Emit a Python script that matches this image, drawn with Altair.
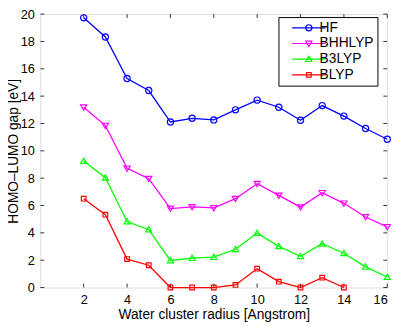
import altair as alt
import pandas as pd

radius = [2, 3, 4, 5, 6, 7, 8, 9, 10, 11, 12, 13, 14, 15, 16]
series_names = ["HF", "BHHLYP", "B3LYP", "BLYP"]
hf = [19.73, 18.33, 15.29, 14.41, 12.11, 12.38, 12.26, 13.0, 13.71, 13.19, 12.24, 13.31, 12.54, 11.63, 10.85]
bhhlyp = [13.19, 11.85, 8.72, 7.96, 5.78, 5.90, 5.83, 6.50, 7.60, 6.74, 5.88, 6.93, 6.16, 5.16, 4.44]
b3lyp = [9.25, 8.03, 4.83, 4.23, 1.98, 2.15, 2.22, 2.80, 3.99, 3.01, 2.29, 3.20, 2.51, 1.51, 0.77]
blyp = [6.50, 5.33, 2.08, 1.63, 0.0, 0.0, 0.0, 0.19, 1.38, 0.43, 0.0, 0.72, 0.0]
x_tick_values = [2, 4, 6, 8, 10, 12, 14, 16]
y_tick_values = [0, 2, 4, 6, 8, 10, 12, 14, 16, 18, 20]

colors = ["#0000ff", "#ff00ff", "#00ff00", "#ff0000"]
shapes = [
    "M-1,0A1,1,0,1,1,1,0A1,1,0,1,1,-1,0Z",
    "M-1,-0.75L1,-0.75L0,0.95Z",
    "M-1,0.75L1,0.75L0,-0.95Z",
    "M-0.75,-0.75L0.75,-0.75L0.75,0.75L-0.75,0.75Z",
]
legend_shapes = ["M-5.4,0L5.4,0" + s for s in shapes]

rows = []
for name, vals in zip(series_names, [hf, bhhlyp, b3lyp, blyp]):
    for r, v in zip(radius, vals):
        rows.append({"radius": r, "gap": v, "series": name})
df = pd.DataFrame(rows)

W, H = 354, 279
FONT = "Liberation Sans"

xscale = alt.Scale(domain=[0, 16], nice=False, zero=False)
yscale = alt.Scale(domain=[0, 20], nice=False)
cscale = alt.Scale(domain=series_names, range=colors)
sscale = alt.Scale(domain=series_names, range=legend_shapes)

legend = alt.Legend(
    title=None,
    orient="none",
    legendX=243,
    legendY=3,
    padding=4,
    rowPadding=2,
    strokeColor="#000000",
    fillColor="#ffffff",
    symbolOffset=20,
    labelOffset=4,
    labelFont=FONT,
    labelFontSize=14,
    labelColor="#000000",
    symbolStrokeWidth=1.2,
    symbolSize=40,
    symbolOpacity=1,
    labelExpr="datum.label + '\u00a0\u00a0\u00a0\u00a0\u00a0\u00a0'",
)

x_axis = alt.Axis(
    values=x_tick_values, grid=False, domain=False, tickSize=0, labelPadding=6,
    labelFont=FONT, labelFontSize=13, labelColor="#000000", labelOverlap=False,
    title="Water cluster radius [Angstrom]", titleFont=FONT, titleFontSize=14,
    titleFontWeight="normal", titleColor="#000000", titlePadding=2,
)
y_axis = alt.Axis(
    values=y_tick_values, grid=False, domain=False, tickSize=0, labelPadding=6,
    labelFont=FONT, labelFontSize=13, labelColor="#000000", labelOverlap=False,
    title="HOMO\u2013LUMO gap [eV]", titleFont=FONT, titleFontSize=14,
    titleFontWeight="normal", titleColor="#000000", titlePadding=0,
)

base = alt.Chart(df)
lines = base.mark_line(strokeWidth=1.3).encode(
    x=alt.X("radius:Q", scale=xscale, axis=x_axis),
    y=alt.Y("gap:Q", scale=yscale, axis=y_axis),
    color=alt.Color("series:N", scale=cscale, legend=legend),
    detail="series:N",
)

point_layers = []
for name, col, shp in zip(series_names, colors, shapes):
    point_layers.append(
        base.transform_filter(alt.datum.series == name)
        .mark_point(filled=False, size=40, strokeWidth=1.2, opacity=1, color=col, shape=shp)
        .encode(x=alt.X("radius:Q", scale=xscale, axis=x_axis),
                y=alt.Y("gap:Q", scale=yscale, axis=y_axis))
    )

legend_layer = base.transform_filter("datum.gap < -1000").mark_point(
    filled=False, size=40, strokeWidth=1.2, opacity=1
).encode(
    x=alt.X("radius:Q", scale=xscale, axis=x_axis),
    y=alt.Y("gap:Q", scale=yscale, axis=y_axis),
    color=alt.Color("series:N", scale=cscale, legend=legend),
    shape=alt.Shape("series:N", scale=sscale, legend=legend),
)

xt = pd.DataFrame({"t": x_tick_values})
yt = pd.DataFrame({"t": y_tick_values})
tick_color = "#333333"
xb = alt.Chart(xt).mark_rule(color=tick_color, strokeWidth=1).encode(
    x=alt.X("t:Q", scale=xscale, axis=x_axis), y=alt.value(H), y2=alt.value(H - 4))
xtop = alt.Chart(xt).mark_rule(color=tick_color, strokeWidth=1).encode(
    x=alt.X("t:Q", scale=xscale, axis=x_axis), y=alt.value(0), y2=alt.value(4))
yl = alt.Chart(yt).mark_rule(color=tick_color, strokeWidth=1).encode(
    y=alt.Y("t:Q", scale=yscale, axis=y_axis), x=alt.value(0), x2=alt.value(4))
yr = alt.Chart(yt).mark_rule(color=tick_color, strokeWidth=1).encode(
    y=alt.Y("t:Q", scale=yscale, axis=y_axis), x=alt.value(W), x2=alt.value(W - 4))

chart = alt.layer(lines, xb, xtop, yl, yr, *point_layers, legend_layer).properties(
    width=W, height=H,
    autosize=alt.AutoSizeParams(type="none"),
    padding={"left": 33, "top": 3, "right": 12, "bottom": 36},
).configure_view(
    stroke="#1a1a1a", strokeWidth=1,
).configure(background="#ffffff")

chart.save("out.html", embed_options={"renderer": "svg", "actions": False})
